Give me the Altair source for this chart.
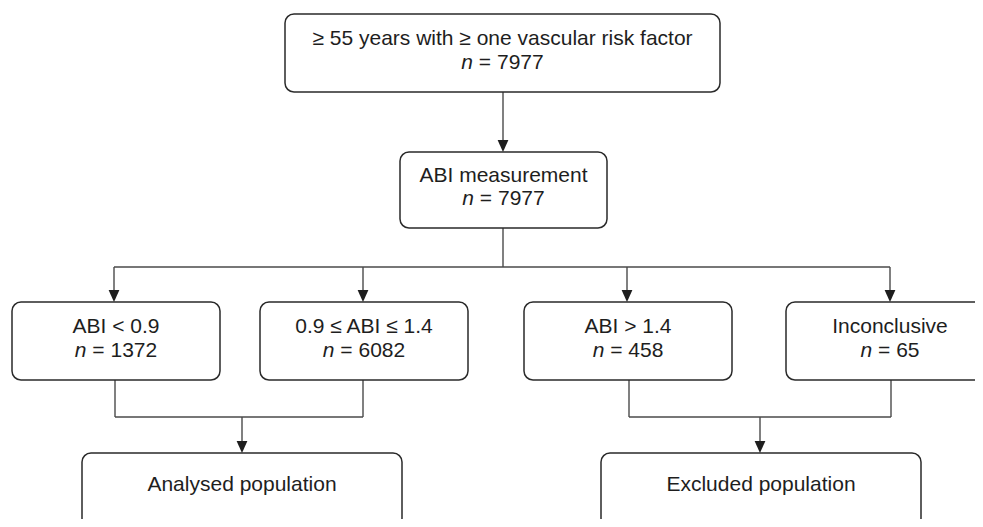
import altair as alt
import pandas as pd

# ---------------- content ----------------
box_titles = [
    "≥ 55 years with ≥ one vascular risk factor",
    "ABI measurement",
    "ABI < 0.9",
    "0.9 ≤ ABI ≤ 1.4",
    "ABI > 1.4",
    "Inconclusive",
    "Analysed population",
    "Excluded population",
]
box_counts = [7977, 7977, 1372, 6082, 458, 65, None, None]

# ---------------- layout (figure pixels) ----------------
box_x0 = [285, 400, 12, 260, 524, 786, 82, 601]
box_x1 = [720, 607, 220, 468, 732, 994, 402, 921]
box_y0 = [14, 152, 302, 302, 302, 302, 453, 453]
box_y1 = [92, 228, 380, 380, 380, 380, 527, 527]
title_base = [45.3, 181.7, 333.3, 333.3, 333.3, 333.3, 491, 491]
line_gap = 23.4

# connector segments
seg_x = [503, 503, 114, 114, 363, 627, 890, 115, 363, 115, 242, 629, 891, 629, 760]
seg_y = [92, 228, 267, 267, 267, 267, 267, 380, 380, 417, 417, 380, 380, 417, 417]
seg_x2 = [503, 503, 890, 114, 363, 627, 890, 115, 363, 363, 242, 629, 891, 891, 760]
seg_y2 = [146, 267, 267, 296, 296, 296, 296, 417, 417, 417, 447, 417, 417, 417, 447]

# arrow tips
tip_x = [503, 114, 363, 627, 890, 242, 760]
tip_y = [152, 302, 302, 302, 302, 453, 453]

FS = 21
FONT = "Liberation Sans"
TXT = "#1e1e1e"
# Arial advance widths (em)
AW = {"n": 0.556, " ": 0.278, "=": 0.584}
for d in "0123456789":
    AW[d] = 0.556


def w(s):
    return sum(AW.get(c, 0.556) for c in s) * FS


boxes = pd.DataFrame({"x0": box_x0, "x1": box_x1, "y0": box_y0, "y1": box_y1})

titles = pd.DataFrame({
    "x": [(a + b) / 2 for a, b in zip(box_x0, box_x1)],
    "y": title_base,
    "t": box_titles,
})

n_rows, c_rows = [], []
for a, b, yb, c in zip(box_x0, box_x1, title_base, box_counts):
    if c is None:
        continue
    cx = (a + b) / 2
    rest = "= " + str(c)
    total = w("n") + w(" ") + w(rest)
    split = cx - total / 2 + w("n")
    n_rows.append({"x": split, "y": yb + line_gap, "t": "n"})
    c_rows.append({"x": split + w(" "), "y": yb + line_gap, "t": rest})
n_df = pd.DataFrame(n_rows)
c_df = pd.DataFrame(c_rows)

segs = pd.DataFrame({"x": seg_x, "y": seg_y, "x2": seg_x2, "y2": seg_y2})
ARW = 6.0
tips = pd.DataFrame({"x": tip_x, "y": [t - ARW for t in tip_y]})

xs = alt.Scale(domain=[8, 975], nice=False, zero=False)
ys = alt.Scale(domain=[8, 519], nice=False, zero=False, reverse=True)

rects = alt.Chart(boxes).mark_rect(
    fill="white", stroke="#2a2a2a", strokeWidth=1.5, cornerRadius=9, clip=True
).encode(
    x=alt.X("x0:Q", scale=xs, axis=None),
    x2="x1:Q",
    y=alt.Y("y0:Q", scale=ys, axis=None),
    y2="y1:Q",
)

rules = alt.Chart(segs).mark_rule(color="#4a4a4a", strokeWidth=1.4).encode(
    x=alt.X("x:Q", scale=xs, axis=None),
    y=alt.Y("y:Q", scale=ys, axis=None),
    x2="x2:Q",
    y2="y2:Q",
)

arrows = alt.Chart(tips).mark_point(
    shape="M-0.9,-1L0.9,-1L0,1Z", filled=True, size=(2 * ARW) ** 2,
    color="#1e1e1e", opacity=1, strokeWidth=0
).encode(
    x=alt.X("x:Q", scale=xs, axis=None),
    y=alt.Y("y:Q", scale=ys, axis=None),
)

title_txt = alt.Chart(titles).mark_text(
    font=FONT, fontSize=FS, color=TXT, align="center", baseline="alphabetic"
).encode(
    x=alt.X("x:Q", scale=xs, axis=None),
    y=alt.Y("y:Q", scale=ys, axis=None),
    text="t:N",
)

n_txt = alt.Chart(n_df).mark_text(
    font=FONT, fontSize=FS, color=TXT, align="right", baseline="alphabetic",
    fontStyle="italic"
).encode(
    x=alt.X("x:Q", scale=xs, axis=None),
    y=alt.Y("y:Q", scale=ys, axis=None),
    text="t:N",
)

c_txt = alt.Chart(c_df).mark_text(
    font=FONT, fontSize=FS, color=TXT, align="left", baseline="alphabetic"
).encode(
    x=alt.X("x:Q", scale=xs, axis=None),
    y=alt.Y("y:Q", scale=ys, axis=None),
    text="t:N",
)

chart = alt.layer(rules, rects, arrows, title_txt, n_txt, c_txt).properties(
    width=967, height=511, padding=0, autosize=alt.AutoSizeParams(type="none"),
    background="white"
).configure_view(stroke=None)

chart.save("out.html", embed_options={"renderer": "svg", "actions": False})
